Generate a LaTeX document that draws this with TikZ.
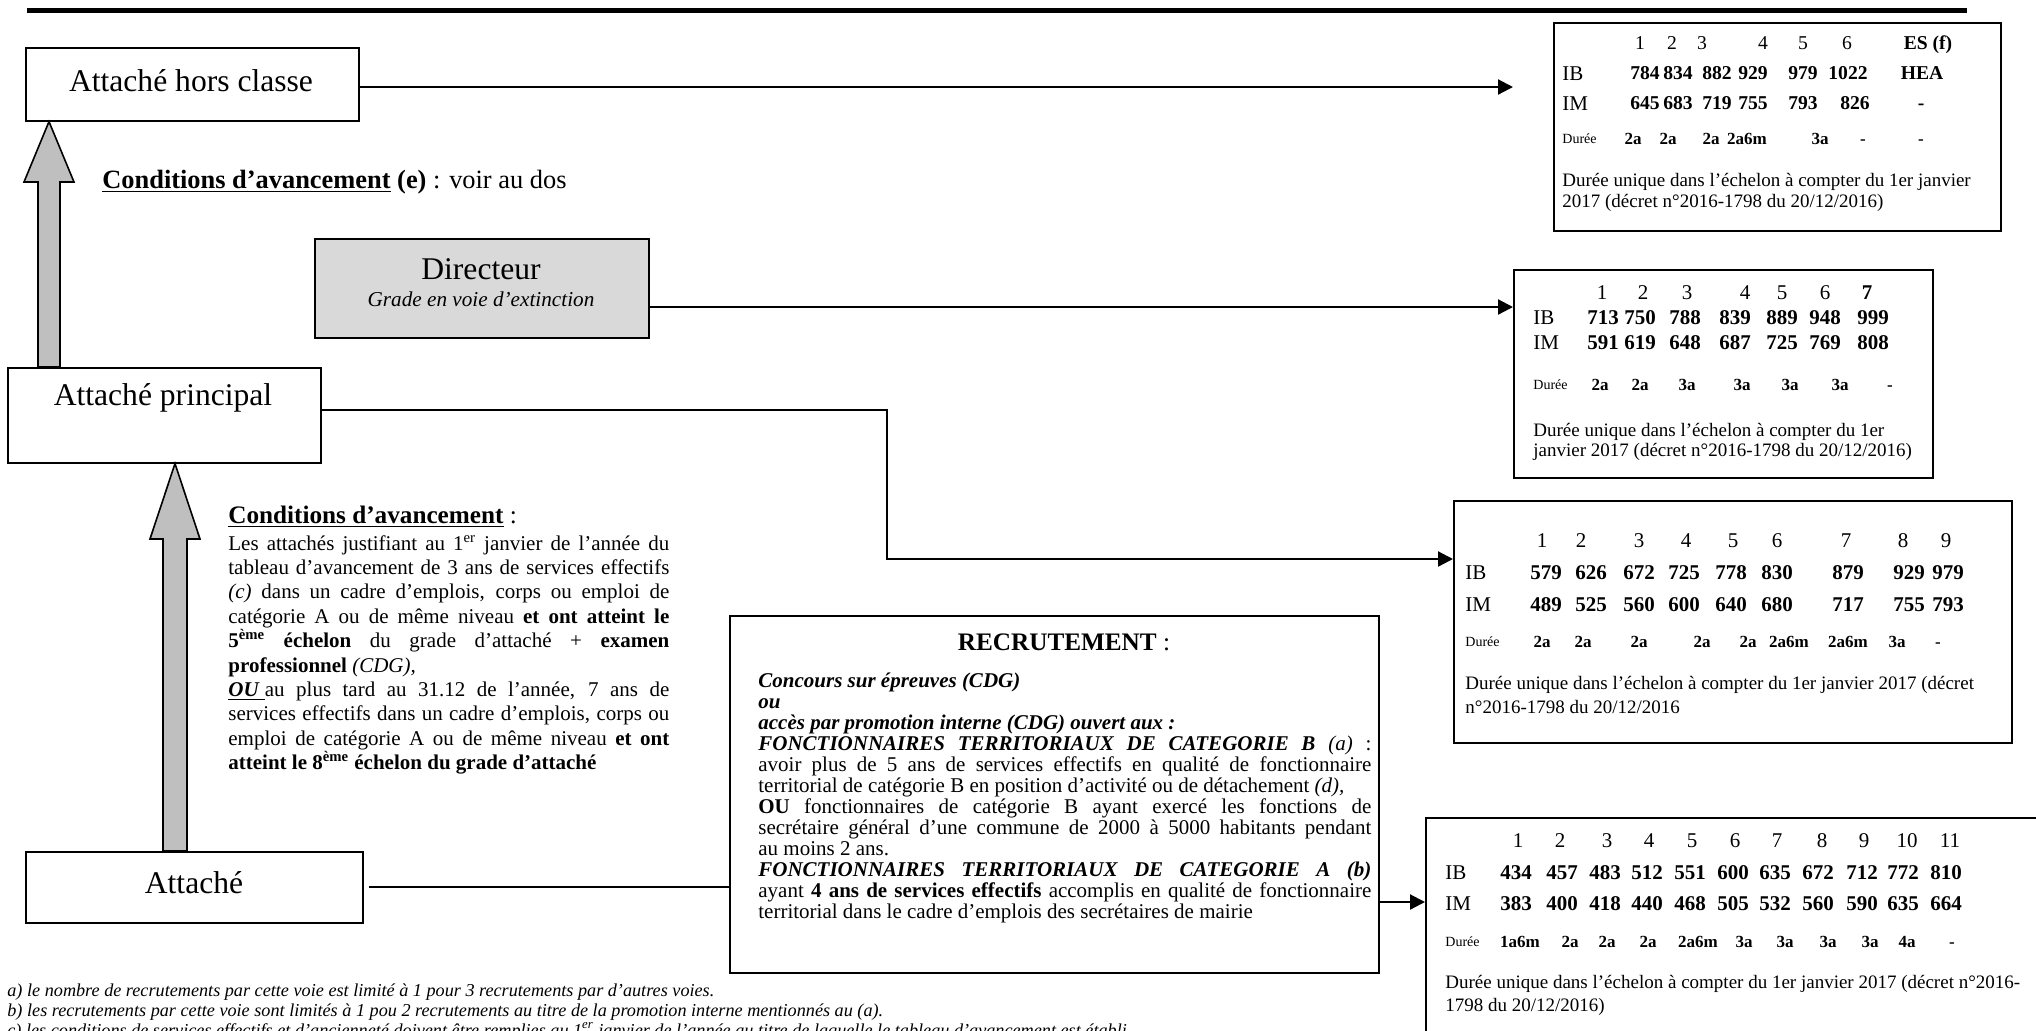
\documentclass[tikz,border=0pt]{standalone}
\usepackage{fontspec}
\setmainfont{Liberation Serif}
\usetikzlibrary{arrows.meta}
\definecolor{dirgray}{gray}{0.85}
\definecolor{arrgray}{gray}{0.75}
\newcommand\trow[4]{\foreach \tcx/\tct [count=\tci] in {#4}{\node[#3] (#1\tci) at (\tcx,#2) {\tct};}}
\begin{document}
\begin{tikzpicture}[x=0.5pt,y=-0.5pt,
  gbox/.style={draw, line width=0.8pt, inner sep=0pt, anchor=north west},
  tbox/.style={draw, line width=1.1pt, inner sep=0pt, anchor=north west},
  lbl/.style={inner sep=0pt, font=\fontsize{15.8}{18}\selectfont},
  conn/.style={line width=1.1pt, -{Triangle[length=7.5pt,width=7.5pt]}},
  plain/.style={line width=1.1pt},
  blk/.style={draw, line width=0.8pt, fill=arrgray, line join=miter},
  cell/.style={inner sep=0pt},
  hd/.style={cell, font=\fontsize{10.5}{12}\selectfont, text height=7.1pt, text depth=0pt},
  bv/.style={cell, font=\bfseries\fontsize{10.5}{12}\selectfont, text height=7.1pt, text depth=0pt},
  hds/.style={cell, font=\fontsize{9.8}{12}\selectfont, text height=6.7pt, text depth=0pt},
  bvs/.style={cell, font=\bfseries\fontsize{9.8}{12}\selectfont, text height=6.7pt, text depth=0pt},
  rl/.style={hd, anchor=west},
  dl/.style={cell, anchor=west, font=\fontsize{7}{8}\selectfont, text height=4.8pt, text depth=0pt},
  dv/.style={cell, font=\bfseries\fontsize{8.5}{10}\selectfont, text height=5.8pt, text depth=0pt},
  nt/.style={cell, anchor=base west, font=\fontsize{9.5}{11}\selectfont},
  fn/.style={cell, anchor=base west, font=\itshape\fontsize{9.1}{11}\selectfont},
]
\useasboundingbox (0,0) rectangle (2036,1030);
\clip (0,0) rectangle (2036,1030);

% top rule
\draw[line width=2.5pt] (27,10) -- (1967,10);

% boxes
\node[gbox, minimum width=166.5pt, minimum height=36.5pt] (ahc) at (25,47) {};
\node[gbox, fill=dirgray, minimum width=167pt, minimum height=49.5pt] (dir) at (314,238) {};
\node[gbox, minimum width=156.5pt, minimum height=47.5pt] (ap) at (7,367) {};
\node[gbox, minimum width=168.5pt, minimum height=35.5pt] (att) at (25,851) {};
\node[gbox, minimum width=324.5pt, minimum height=178.5pt] (recr) at (729,615) {};
\node[tbox, minimum width=223.5pt, minimum height=104pt] (t1) at (1553,22) {};
\node[tbox, minimum width=209.5pt, minimum height=104pt] (t2) at (1513,269) {};
\node[tbox, minimum width=279pt, minimum height=121pt] (t3) at (1453,500) {};
\node[tbox, minimum width=312.5pt, minimum height=116.5pt] (t4) at (1425,817) {};

% big grey arrows
\draw[blk] (38,0 |- ap.north) -- (38,182) -- (24,182) -- (49,0 |- ahc.south) -- (74,182) -- (60,182) -- (60,0 |- ap.north) -- cycle;
\draw[blk] (163,0 |- att.north) -- (163,539) -- (150,539) -- (175,0 |- ap.south) -- (200,539) -- (187,539) -- (187,0 |- att.north) -- cycle;

% connectors
\coordinate (t1in) at (1513,87);
\coordinate (t2in) at (1513,307);
\coordinate (apturn) at (887,410);
\coordinate (t3in) at (1453,559);
\coordinate (t4in) at (1425,902);
\draw[conn] (ahc.east |- t1in) -- (t1in);
\draw[conn] (dir.east |- t2in) -- (t2in);
\draw[conn] (ap.east |- apturn) -- (apturn) |- (t3in);
\draw[plain] ([xshift=2.5pt]att.east) -- (att.east -| recr.west);
\draw[conn] (recr.east |- t4in) -- (t4in);

% grade labels
\node[lbl] (ahcl) at (191,81) {Attaché hors classe};
\node[lbl] (dirl) at (481,269) {Directeur};
\node[inner sep=0pt, font=\itshape\fontsize{10.6}{12}\selectfont] (dirs) at (481,299) {Grade en voie d’extinction};
\node[lbl] (apl) at (163,398) {Attaché principal};
\node[lbl] (attl) at (194,883) {Attaché};

% conditions (e)
\node[cell, anchor=base west, font=\fontsize{13.2}{15}\selectfont] (conde) at (102,188)
  {\underline{\textbf{Conditions d’avancement}} \textbf{(e)} : voir au dos};

% conditions attaché principal
\node[cell, anchor=base west, font=\fontsize{12.6}{15}\selectfont] (condh) at (228,523)
  {\underline{\textbf{Conditions d’avancement}} :};
\node[cell, anchor=base west] (condt) at (228,550) {\parbox[t]{220.5pt}{\fontsize{10.5}{12.2}\selectfont
Les attachés justifiant au 1\textsuperscript{er} janvier de l’année du\linebreak
tableau d’avancement de 3 ans de services effectifs\linebreak
\textit{(c)} dans un cadre d’emplois, corps ou emploi de\linebreak
catégorie A ou de même niveau \textbf{et ont atteint le}\linebreak
\textbf{5\textsuperscript{ème} échelon} du grade d’attaché + \textbf{examen}\linebreak
\textbf{professionnel} \textit{(CDG),}\\
\underline{\textbf{\textit{OU}} }au plus tard au 31.12 de l’année, 7 ans de\linebreak
services effectifs dans un cadre d’emplois, corps ou\linebreak
emploi de catégorie A ou de même niveau \textbf{et ont}\linebreak
\textbf{atteint le 8\textsuperscript{ème} échelon du grade d’attaché}}};

% recrutement
\node[cell, anchor=base, font=\fontsize{12.6}{15}\selectfont] (recrh) at (1064,650) {\textbf{RECRUTEMENT} :};
\node[cell, anchor=base west] (recrt) at (758,687) {\parbox[t]{306.5pt}{\fontsize{10.5}{10.5}\selectfont
\textbf{\textit{Concours sur épreuves (CDG)}}\\
\textbf{\textit{ou}}\\
\textbf{\textit{accès par promotion interne (CDG) ouvert aux~:}}\\
\textbf{\textit{FONCTIONNAIRES TERRITORIAUX DE CATEGORIE B}} \textit{(a)}~:\linebreak
avoir plus de 5 ans de services effectifs en qualité de fonctionnaire\linebreak
territorial de catégorie B en position d’activité ou de détachement \textit{(d),}\\
\textbf{OU} fonctionnaires de catégorie B ayant exercé les fonctions de\linebreak
secrétaire général d’une commune de 2000 à 5000 habitants pendant\linebreak
au moins 2 ans.\\
\textbf{\textit{FONCTIONNAIRES TERRITORIAUX DE CATEGORIE A (b)}}\linebreak
ayant \textbf{4 ans de services effectifs} accomplis en qualité de fonctionnaire\linebreak
territorial dans le cadre d’emplois des secrétaires de mairie}};

% table 1 : attaché hors classe
\trow{t1h}{43}{hds}{1640/1,1672/2,1702/3,1763/4,1803/5,1847/6,1928/\textbf{ES (f)}}
\node[rl] (t1ib) at (1562,73) {IB};
\trow{t1b}{73}{bvs}{1645/784,1678/834,1717/882,1753/929,1803/979,1848/1022,1922/HEA}
\node[rl] (t1im) at (1562,103) {IM};
\trow{t1m}{103}{bvs}{1645/645,1678/683,1717/719,1753/755,1803/793,1855/826,1921/-}
\node[dl] (t1d) at (1562,139) {Durée};
\trow{t1v}{139}{dv}{1633/2a,1668/2a,1711/2a,1747/2a6m,1820/3a,1863/-,1921/-}
\node[nt] (t1n1) at (1562,186) {Durée unique dans l’échelon à compter du 1er janvier};
\node[nt] (t1n2) at (1562,207) {2017 (décret n°2016-1798 du 20/12/2016)};

% table 2 : directeur
\trow{t2h}{292}{hd}{1602/1,1643/2,1687/3,1745/4,1782/5,1825/6,1867/\textbf{7}}
\node[rl] (t2ib) at (1533,317) {IB};
\trow{t2b}{317}{bv}{1603/713,1640/750,1685/788,1735/839,1782/889,1825/948,1873/999}
\node[rl] (t2im) at (1533,342) {IM};
\trow{t2m}{342}{bv}{1603/591,1640/619,1685/648,1735/687,1782/725,1825/769,1873/808}
\node[dl] (t2d) at (1533,385) {Durée};
\trow{t2v}{385}{dv}{1600/2a,1640/2a,1687/3a,1742/3a,1790/3a,1840/3a,1890/-}
\node[nt] (t2n1) at (1533,436) {Durée unique dans l’échelon à compter du 1er};
\node[nt] (t2n2) at (1533,456) {janvier 2017 (décret n°2016-1798 du 20/12/2016)};

% table 3 : attaché principal
\trow{t3h}{540}{hd}{1542/1,1581/2,1639/3,1686/4,1733/5,1777/6,1846/7,1903/8,1946/9}
\node[rl] (t3ib) at (1465,572) {IB};
\trow{t3b}{572}{bv}{1546/579,1591/626,1639/672,1684/725,1731/778,1777/830,1848/879,1909/929,1948/979}
\node[rl] (t3im) at (1465,604) {IM};
\trow{t3m}{604}{bv}{1546/489,1591/525,1639/560,1684/600,1731/640,1777/680,1848/717,1909/755,1948/793}
\node[dl] (t3d) at (1465,642) {Durée};
\trow{t3v}{642}{dv}{1542/2a,1583/2a,1639/2a,1702/2a,1748/2a,1789/2a6m,1848/2a6m,1897/3a,1938/-}
\node[nt] (t3n1) at (1465,689) {Durée unique dans l’échelon à compter du 1er janvier 2017 (décret};
\node[nt] (t3n2) at (1465,713) {n°2016-1798 du 20/12/2016};

% table 4 : attaché
\trow{t4h}{840}{hd}{1518/1,1560/2,1607/3,1649/4,1692/5,1735/6,1777/7,1822/8,1864/9,1907/10,1950/11}
\node[rl] (t4ib) at (1445,872) {IB};
\trow{t4b}{872}{bv}{1516/434,1562/457,1605/483,1647/512,1690/551,1733/600,1775/635,1818/672,1862/712,1903/772,1946/810}
\node[rl] (t4im) at (1445,903) {IM};
\trow{t4m}{903}{bv}{1516/383,1562/400,1605/418,1647/440,1690/468,1733/505,1775/532,1818/560,1862/590,1903/635,1946/664}
\node[dl] (t4d) at (1445,942) {Durée};
\trow{t4v}{942}{dv}{1520/1a6m,1570/2a,1607/2a,1648/2a,1698/2a6m,1744/3a,1785/3a,1828/3a,1870/3a,1907/4a,1952/-}
\node[nt] (t4n1) at (1445,988) {Durée unique dans l’échelon à compter du 1er janvier 2017 (décret n°2016-};
\node[nt] (t4n2) at (1445,1011) {1798 du 20/12/2016)};

% footnotes
\node[fn] (fna) at (7,996) {a) le nombre de recrutements par cette voie est limité à 1 pour 3 recrutements par d’autres voies.};
\node[fn] (fnb) at (7,1016) {b) les recrutements par cette voie sont limités à 1 pou 2 recrutements au titre de la promotion interne mentionnés au (a).};
\node[fn] (fnc) at (7,1036) {c) les conditions de services effectifs et d’ancienneté doivent être remplies au 1\textsuperscript{er} janvier de l’année au titre de laquelle le tableau d’avancement est établi.};
\end{tikzpicture}
\end{document}
